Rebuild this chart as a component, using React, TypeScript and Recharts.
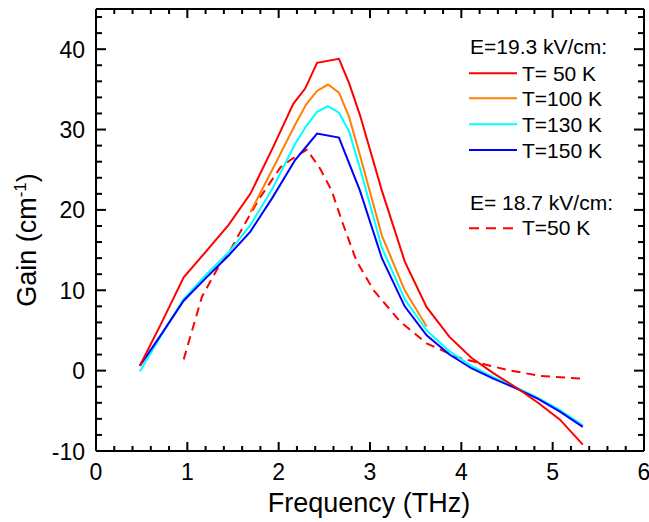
import React from "react";
import {
  LineChart,
  Line,
  XAxis,
  YAxis,
  Legend,
  Label,
} from "recharts";

// ── data ────────────────────────────────────────────────────────────────────
const FREQ_50K = [0.48, 0.72, 0.96, 1.21, 1.45, 1.69, 1.93, 2.16, 2.29, 2.42, 2.66, 2.77, 2.89, 3.13, 3.38, 3.62, 3.87, 4.11, 4.35, 4.6, 4.84, 5.08, 5.33];
const GAIN_50K = [0.6, 6.0, 11.6, 14.9, 18.1, 22.0, 27.6, 33.2, 35.1, 38.3, 38.8, 35.8, 31.8, 22.4, 13.6, 7.9, 4.2, 1.6, -0.3, -2.1, -4.0, -6.1, -9.2];

const FREQ_100K = [1.69, 1.93, 2.18, 2.3, 2.42, 2.54, 2.66, 2.77, 2.89, 3.13, 3.38, 3.62];
const GAIN_100K = [19.7, 25.0, 30.6, 33.1, 34.8, 35.6, 34.6, 31.6, 26.8, 16.8, 10.0, 5.5];

const FREQ_130K = [0.48, 0.72, 0.96, 1.21, 1.45, 1.69, 1.93, 2.18, 2.3, 2.42, 2.54, 2.66, 2.77, 2.89, 3.13, 3.38, 3.62, 3.87, 4.11, 4.35, 4.6, 4.84, 5.08, 5.33];
const GAIN_130K = [-0.1, 4.5, 8.9, 12.0, 14.7, 18.1, 22.6, 28.2, 30.4, 32.2, 32.9, 32.1, 29.8, 25.2, 15.3, 8.9, 5.0, 2.4, 0.6, -0.8, -2.1, -3.4, -4.9, -6.8];

const FREQ_150K = [0.48, 0.72, 0.96, 1.21, 1.45, 1.69, 1.93, 2.18, 2.42, 2.66, 2.89, 3.13, 3.38, 3.62, 3.87, 4.11, 4.35, 4.6, 4.84, 5.08, 5.33];
const GAIN_150K = [0.6, 4.6, 8.7, 11.6, 14.3, 17.3, 21.5, 26.2, 29.5, 29.0, 22.4, 14.0, 8.0, 4.4, 2.0, 0.3, -1.0, -2.2, -3.5, -5.1, -7.0];

const FREQ_187 = [0.96, 1.16, 1.34, 1.47, 1.67, 1.8, 2.02, 2.14, 2.31, 2.45, 2.58, 2.69, 2.85, 3.04, 3.33, 3.62, 3.95, 4.21, 4.5, 4.86, 5.33];
const GAIN_187 = [1.4, 9.2, 12.9, 15.0, 19.1, 21.6, 25.3, 26.3, 27.5, 25.2, 22.4, 18.7, 13.7, 10.0, 6.1, 3.4, 1.7, 0.9, 0.1, -0.65, -1.0];

const X_MAJOR = [0, 1, 2, 3, 4, 5, 6];
const Y_MAJOR = [-10, 0, 10, 20, 30, 40];
// minor ticks every 0.2 THz and every 2 cm^-1
const X_TICKS = Array.from({ length: 31 }, (_, i) => Math.round(i * 2) / 10);
const Y_TICKS = Array.from({ length: 28 }, (_, i) => -10 + i * 2);

const FONT = "'Liberation Sans', Arial, sans-serif";

const toPoints = (xs: number[], ys: number[]) => xs.map((x, i) => ({ x, y: ys[i] }));

const isMajor = (v: number, majors: number[]) => majors.some((m) => Math.abs(m - v) < 1e-6);

function BottomTick({ x, y, payload }: any) {
  const major = isMajor(payload.value, X_MAJOR);
  return (
    <g>
      <line x1={x} y1={y} x2={x} y2={y - (major ? 9 : 5)} stroke="#000" strokeWidth={2} />
      {major && (
        <text x={x} y={y + 29} textAnchor="middle" fontSize={23} fontFamily={FONT} fill="#000">
          {payload.value}
        </text>
      )}
    </g>
  );
}

function TopTick({ x, y, payload }: any) {
  const major = isMajor(payload.value, X_MAJOR);
  return <line x1={x} y1={y} x2={x} y2={y + (major ? 9 : 5)} stroke="#000" strokeWidth={2} />;
}

function LeftTick({ x, y, payload }: any) {
  const major = isMajor(payload.value, Y_MAJOR);
  return (
    <g>
      <line x1={x} y1={y} x2={x + (major ? 10 : 6)} y2={y} stroke="#000" strokeWidth={2} />
      {major && (
        <text x={x - 11} y={y + 8.5} textAnchor="end" fontSize={23} fontFamily={FONT} fill="#000">
          {payload.value}
        </text>
      )}
    </g>
  );
}

function RightTick({ x, y, payload }: any) {
  const major = isMajor(payload.value, Y_MAJOR);
  return <line x1={x} y1={y} x2={x - (major ? 10 : 6)} y2={y} stroke="#000" strokeWidth={2} />;
}

const SERIES = [
  { name: "T= 50 K", color: "#ff0000", dash: undefined },
  { name: "T=100 K", color: "#ff8000", dash: undefined },
  { name: "T=130 K", color: "#00ffff", dash: undefined },
  { name: "T=150 K", color: "#0000ff", dash: undefined },
];

function LegendBox() {
  const txt = { fontSize: 21, fontFamily: FONT, fill: "#000" };
  const rows = [43.3, 68.3, 94.3, 120];
  return (
    <svg width={180} height={215} style={{ display: "block" }}>
      <text x={1} y={24.3} {...txt}>E=19.3 kV/cm:</text>
      {SERIES.map((s, i) => (
        <g key={s.name}>
          <line x1={0} x2={48} y1={rows[i]} y2={rows[i]} stroke={s.color} strokeWidth={2} />
          <text x={53} y={rows[i] + 7.5} {...txt}>{s.name}</text>
        </g>
      ))}
      <text x={1} y={180} {...txt}>E= 18.7 kV/cm:</text>
      <line x1={0} x2={48} y1={198.3} y2={198.3} stroke="#ff0000" strokeWidth={2} strokeDasharray="10 7" />
      <text x={53} y={205} {...txt}>T=50 K</text>
    </svg>
  );
}

export default function App() {
  return (
    <div style={{ width: 649, height: 522, position: "relative", background: "#fff" }}>
      <style>{"body{margin:0}"}</style>
      <LineChart
        width={649}
        height={522}
        margin={{ top: 8, right: 4, bottom: 41, left: 36 }}
      >
        <XAxis
          xAxisId="bottom"
          dataKey="x"
          type="number"
          domain={[0, 6]}
          allowDataOverflow
          ticks={X_TICKS}
          interval={0}
          height={30}
          tickSize={0}
          tickMargin={0}
          tickLine={false}
          tick={<BottomTick />}
          axisLine={{ stroke: "#000", strokeWidth: 2 }}
        >
          <Label
            content={() => (
              <text x={369} y={512} textAnchor="middle" fontSize={27} fontFamily={FONT} fill="#000">
                Frequency (THz)
              </text>
            )}
          />
        </XAxis>
        <XAxis
          xAxisId="top"
          orientation="top"
          dataKey="x"
          type="number"
          domain={[0, 6]}
          allowDataOverflow
          ticks={X_TICKS}
          interval={0}
          height={1}
          tickSize={0}
          tickMargin={0}
          tickLine={false}
          tick={<TopTick />}
          axisLine={{ stroke: "#000", strokeWidth: 2 }}
        />
        <YAxis
          yAxisId="left"
          type="number"
          domain={[-10, 45]}
          allowDataOverflow
          ticks={Y_TICKS}
          interval={0}
          width={60}
          tickSize={0}
          tickMargin={0}
          tickLine={false}
          tick={<LeftTick />}
          axisLine={{ stroke: "#000", strokeWidth: 2 }}
        >
          <Label
            content={() => (
              <text
                x={36}
                y={240}
                transform="rotate(-90, 36, 240)"
                textAnchor="middle"
                fontSize={27}
                fontFamily={FONT}
                fill="#000"
              >
                Gain (cm
                <tspan dy={-10} fontSize={17}>-1</tspan>
                <tspan dy={10}>)</tspan>
              </text>
            )}
          />
        </YAxis>
        <YAxis
          yAxisId="right"
          orientation="right"
          type="number"
          domain={[-10, 45]}
          allowDataOverflow
          ticks={Y_TICKS}
          interval={0}
          width={1}
          tickSize={0}
          tickMargin={0}
          tickLine={false}
          tick={<RightTick />}
          axisLine={{ stroke: "#000", strokeWidth: 2 }}
        />
        <Legend
          layout="vertical"
          align="center"
          verticalAlign="middle"
          wrapperStyle={{ position: "absolute", left: 469, top: 30, width: 180 }}
          content={() => <LegendBox />}
        />
        <Line xAxisId="bottom" yAxisId="left" data={toPoints(FREQ_187, GAIN_187)} dataKey="y" stroke="#ff0000" strokeWidth={2} strokeDasharray="9 6" dot={false} isAnimationActive={false} />
        <Line xAxisId="bottom" yAxisId="left" data={toPoints(FREQ_100K, GAIN_100K)} dataKey="y" stroke="#ff8000" strokeWidth={2} dot={false} isAnimationActive={false} />
        <Line xAxisId="bottom" yAxisId="left" data={toPoints(FREQ_130K, GAIN_130K)} dataKey="y" stroke="#00ffff" strokeWidth={2} dot={false} isAnimationActive={false} />
        <Line xAxisId="bottom" yAxisId="left" data={toPoints(FREQ_150K, GAIN_150K)} dataKey="y" stroke="#0000ff" strokeWidth={2} dot={false} isAnimationActive={false} />
        <Line xAxisId="bottom" yAxisId="left" data={toPoints(FREQ_50K, GAIN_50K)} dataKey="y" stroke="#ff0000" strokeWidth={2} dot={false} isAnimationActive={false} />
      </LineChart>
    </div>
  );
}
